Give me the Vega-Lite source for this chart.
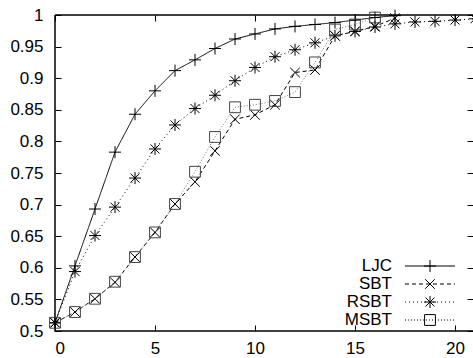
{
  "$schema": "https://vega.github.io/schema/vega-lite/v6.json",
  "width": 418,
  "height": 316,
  "autosize": "none",
  "padding": {"left": 55, "top": 15, "right": 0, "bottom": 27},
  "background": "white",
  "config": {
    "view": {"stroke": "#000000", "strokeWidth": 1.5, "strokeDash": [418, 316, 734, 0]},
    "font": "Liberation Sans",
    "axis": {"labelFont": "Liberation Sans", "labelFontSize": 17, "labelColor": "#000", "grid": false, "domain": false, "tickColor": "#000", "tickWidth": 1, "tickSize": 6, "offset": -6, "title": null},
    "legend": {"labelFont": "Liberation Sans", "labelFontSize": 17, "labelColor": "#000"}
  },
  "data": {"values": [
    {"series": "LJC", "x": 0, "y": 0.513}, {"series": "LJC", "x": 1, "y": 0.603}, {"series": "LJC", "x": 2, "y": 0.693},
    {"series": "LJC", "x": 3, "y": 0.783}, {"series": "LJC", "x": 4, "y": 0.843}, {"series": "LJC", "x": 5, "y": 0.880},
    {"series": "LJC", "x": 6, "y": 0.912}, {"series": "LJC", "x": 7, "y": 0.929}, {"series": "LJC", "x": 8, "y": 0.947},
    {"series": "LJC", "x": 9, "y": 0.962}, {"series": "LJC", "x": 10, "y": 0.970}, {"series": "LJC", "x": 11, "y": 0.978},
    {"series": "LJC", "x": 12, "y": 0.982}, {"series": "LJC", "x": 13, "y": 0.985}, {"series": "LJC", "x": 14, "y": 0.988},
    {"series": "LJC", "x": 15, "y": 0.992}, {"series": "LJC", "x": 16, "y": 0.996}, {"series": "LJC", "x": 17, "y": 0.999},
    {"series": "SBT", "x": 0, "y": 0.513}, {"series": "SBT", "x": 1, "y": 0.530}, {"series": "SBT", "x": 2, "y": 0.551},
    {"series": "SBT", "x": 3, "y": 0.577}, {"series": "SBT", "x": 4, "y": 0.617}, {"series": "SBT", "x": 5, "y": 0.656},
    {"series": "SBT", "x": 6, "y": 0.701}, {"series": "SBT", "x": 7, "y": 0.736}, {"series": "SBT", "x": 8, "y": 0.785},
    {"series": "SBT", "x": 9, "y": 0.835}, {"series": "SBT", "x": 10, "y": 0.842}, {"series": "SBT", "x": 11, "y": 0.858},
    {"series": "SBT", "x": 12, "y": 0.909}, {"series": "SBT", "x": 13, "y": 0.913}, {"series": "SBT", "x": 14, "y": 0.967},
    {"series": "SBT", "x": 15, "y": 0.974}, {"series": "SBT", "x": 16, "y": 0.982}, {"series": "SBT", "x": 17, "y": 0.995},
    {"series": "RSBT", "x": 0, "y": 0.513}, {"series": "RSBT", "x": 1, "y": 0.594}, {"series": "RSBT", "x": 2, "y": 0.651},
    {"series": "RSBT", "x": 3, "y": 0.696}, {"series": "RSBT", "x": 4, "y": 0.742}, {"series": "RSBT", "x": 5, "y": 0.788},
    {"series": "RSBT", "x": 6, "y": 0.826}, {"series": "RSBT", "x": 7, "y": 0.852}, {"series": "RSBT", "x": 8, "y": 0.873},
    {"series": "RSBT", "x": 9, "y": 0.896}, {"series": "RSBT", "x": 10, "y": 0.917}, {"series": "RSBT", "x": 11, "y": 0.934},
    {"series": "RSBT", "x": 12, "y": 0.945}, {"series": "RSBT", "x": 13, "y": 0.956}, {"series": "RSBT", "x": 14, "y": 0.967},
    {"series": "RSBT", "x": 15, "y": 0.974}, {"series": "RSBT", "x": 16, "y": 0.981}, {"series": "RSBT", "x": 17, "y": 0.986},
    {"series": "RSBT", "x": 18, "y": 0.989}, {"series": "RSBT", "x": 19, "y": 0.990}, {"series": "RSBT", "x": 20, "y": 0.992},
    {"series": "RSBT", "x": 21, "y": 0.994},
    {"series": "MSBT", "x": 0, "y": 0.513}, {"series": "MSBT", "x": 1, "y": 0.530}, {"series": "MSBT", "x": 2, "y": 0.551},
    {"series": "MSBT", "x": 3, "y": 0.578}, {"series": "MSBT", "x": 4, "y": 0.617}, {"series": "MSBT", "x": 5, "y": 0.656},
    {"series": "MSBT", "x": 6, "y": 0.701}, {"series": "MSBT", "x": 7, "y": 0.752}, {"series": "MSBT", "x": 8, "y": 0.807},
    {"series": "MSBT", "x": 9, "y": 0.854}, {"series": "MSBT", "x": 10, "y": 0.858}, {"series": "MSBT", "x": 11, "y": 0.864},
    {"series": "MSBT", "x": 12, "y": 0.878}, {"series": "MSBT", "x": 13, "y": 0.925}, {"series": "MSBT", "x": 14, "y": 0.977},
    {"series": "MSBT", "x": 15, "y": 0.985}, {"series": "MSBT", "x": 16, "y": 0.996}
  ]},
  "resolve": {"axis": {"x": "independent", "y": "independent"}},
  "layer": [
    {
      "mark": {"type": "line", "strokeWidth": 1, "clip": false},
      "encoding": {
        "x": {"field": "x", "type": "quantitative", "scale": {"domain": [0, 20.9], "nice": false, "zero": false},
              "axis": {"orient": "bottom", "values": [0, 5, 10, 15, 20], "labelPadding": 9}},
        "y": {"field": "y", "type": "quantitative", "scale": {"domain": [0.5, 1], "nice": false, "zero": false},
              "axis": {"orient": "left", "values": [0.5, 0.55, 0.6, 0.65, 0.7, 0.75, 0.8, 0.85, 0.9, 0.95, 1], "labelExpr": "format(datum.value, '~g')", "labelPadding": 12}},
        "stroke": {"condition": {"test": "datum.series == 'MSBT'", "value": "#777777"}, "value": "#000000"},
        "strokeDash": {"field": "series", "type": "nominal",
          "scale": {"domain": ["LJC", "SBT", "RSBT", "MSBT"], "range": [[1, 0], [4, 3], [1, 3], [1, 2]]},
          "legend": {
            "title": null, "orient": "none", "legendX": 366.5, "legendY": 242.5, "padding": 0,
            "symbolType": "M-4.17,0H4.17", "symbolSize": 144, "symbolStrokeWidth": 1, "symbolStrokeColor": "#000000",
            "labelAlign": "right", "labelOffset": -46.5, "rowPadding": 0
          }
        },
        "detail": {"field": "series"}
      }
    },
    {
      "mark": {"type": "point", "filled": false, "size": 144, "strokeWidth": 1, "opacity": 1},
      "encoding": {
        "x": {"field": "x", "type": "quantitative", "axis": null},
        "y": {"field": "y", "type": "quantitative", "axis": null},
        "stroke": {"condition": {"test": "datum.series == 'MSBT'", "value": "#444444"}, "value": "#000000"},
        "shape": {"field": "series", "type": "nominal", "sort": ["LJC", "SBT", "RSBT", "MSBT"],
          "scale": {"range": [
            "M-1,0H1M0,-1V1",
            "M-0.8,-0.8L0.8,0.8M0.8,-0.8L-0.8,0.8",
            "M-1,0H1M0,-1V1M-0.75,-0.75L0.75,0.75M0.75,-0.75L-0.75,0.75",
            "M-0.9,-0.9H0.9V0.9H-0.9Z"]},
          "legend": {
            "title": null, "orient": "none", "legendX": 366.5, "legendY": 242.5, "padding": 0,
            "symbolSize": 144, "symbolStrokeWidth": 1, "symbolFillColor": "transparent",
            "labelAlign": "right", "labelOffset": -46.5, "rowPadding": 0, "labelOpacity": 0
          }
        }
      }
    },
    {
      "mark": {"type": "point", "opacity": 0},
      "encoding": {
        "x": {"field": "x", "type": "quantitative",
              "axis": {"orient": "top", "values": [0, 5, 10, 15, 20], "labels": false}},
        "y": {"field": "y", "type": "quantitative",
              "axis": {"orient": "right", "values": [0.5, 0.55, 0.6, 0.65, 0.7, 0.75, 0.8, 0.85, 0.9, 0.95, 1], "labels": false}}
      }
    }
  ]
}
